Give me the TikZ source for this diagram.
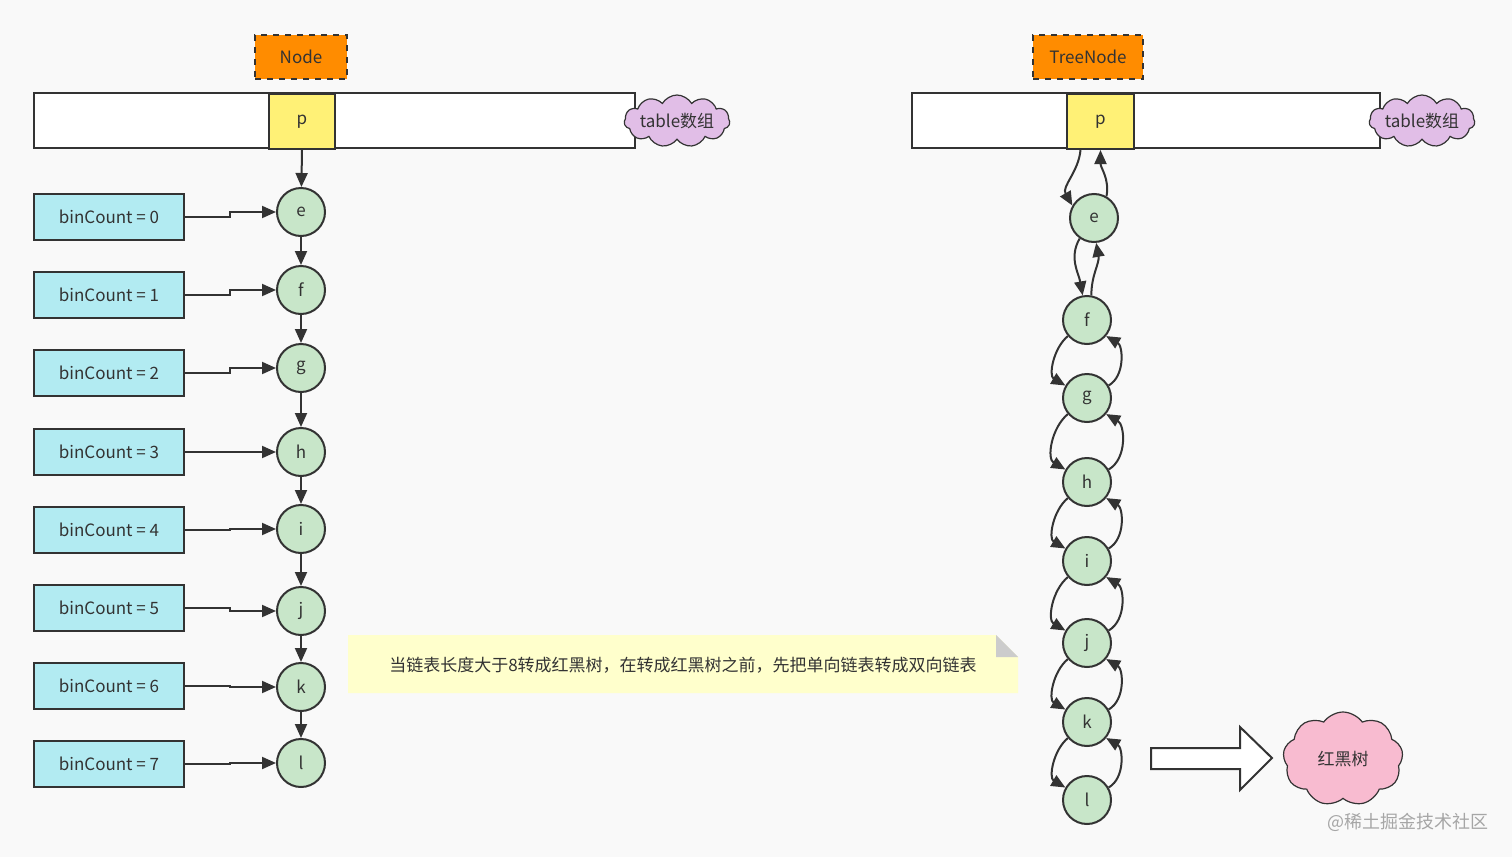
\documentclass[tikz,border=0pt]{standalone}
\usepackage{fontspec}
\setmainfont{Noto Sans CJK SC}
\usetikzlibrary{arrows.meta,shapes.symbols}
\definecolor{bg}{HTML}{F9F9F9}
\definecolor{cyanbox}{HTML}{B2EBF2}
\definecolor{circ}{HTML}{C8E6C9}
\definecolor{pcell}{HTML}{FFF176}
\definecolor{orng}{HTML}{FF8C00}
\definecolor{purp}{HTML}{E1BEE7}
\definecolor{pinkc}{HTML}{F8BBD0}
\definecolor{note}{HTML}{FFFFCC}
\definecolor{ln}{HTML}{333333}
\begin{document}
\begin{tikzpicture}[x=0.5pt,y=-0.5pt,
  every node/.style={font=\fontsize{8.5}{10}\selectfont, text=ln},
  tbl/.style={draw=ln,line width=1pt,fill=white},
  lbl/.style={draw=ln,dashed,line width=1pt,fill=orng,minimum width=46pt,minimum height=22pt},
  bin/.style={draw=ln,line width=1pt,fill=cyanbox,minimum width=75pt,minimum height=23pt},
  cn/.style={circle,draw=ln,line width=1pt,fill=circ,minimum size=24pt,inner sep=0pt},
  cloudn/.style={cloud,cloud puffs=9,cloud puff arc=110,draw=ln,line width=0.6pt,inner sep=0pt},
  tcloud/.style={cloudn,fill=purp,aspect=3.5,cloud puffs=11,cloud puff arc=120,minimum width=52pt,minimum height=26pt},
  arr/.style={draw=ln,line width=1pt,-{Triangle[length=7pt,width=6pt]}}]
\useasboundingbox[fill=bg] (0,0) rectangle (1512,857);
% left table
\draw[tbl] (34,93) rectangle (635,148);
\node[draw=ln,line width=1pt,fill=pcell,minimum width=33pt,minimum height=27.5pt,anchor=north west,inner sep=0pt] (p1) at (268,93) {p};
\node[lbl] (nd) at (301,57) {Node};
\node[tcloud] (c1) at (677,121) {table数组};
\foreach \n/\y/\by/\k in {e/212/217/0,f/290/295/1,g/368/373/2,h/452/452/3,i/529/530/4,j/611/608/5,k/687/686/6,l/763/764/7}{
  \node[cn] (L\n) at (301,\y) {\n};
  \node[bin] (B\k) at (109,\by) {binCount\ =\ \k};
  \draw[arr] (B\k.east) -- ++(45,0) |- (L\n.west);
}
\draw[arr] (p1.south) -- (Le);
\draw[arr] (Le) -- (Lf); \draw[arr] (Lf) -- (Lg); \draw[arr] (Lg) -- (Lh);
\draw[arr] (Lh) -- (Li); \draw[arr] (Li) -- (Lj); \draw[arr] (Lj) -- (Lk); \draw[arr] (Lk) -- (Ll);
% right table
\draw[tbl] (912,93) rectangle (1380,148);
\node[draw=ln,line width=1pt,fill=pcell,minimum width=33.5pt,minimum height=27.5pt,anchor=north west,inner sep=0pt] (p2) at (1066,93) {p};
\node[lbl,minimum width=55pt] (tn) at (1088,57) {TreeNode};
\node[tcloud] (c2) at (1422,121) {table数组};
\foreach \n/\x/\y in {e/1094/218,f/1087/320,g/1087/398,h/1087/482,i/1087/561,j/1087/643,k/1087/722,l/1087/800}{
  \node[cn] (R\n) at (\x,\y) {\n};
}
\draw[arr] ([xshift=-10pt]p2.south) to[out=265,in=120] (Re.150);
\draw[arr] (Re.60) to[out=80,in=270] (p2.south);
\draw[arr] (Re.235) to[out=240,in=100] (Rf.100);
\draw[arr] (Rf.80) to[out=90,in=280] (Re.275);
\foreach \a/\b in {f/g,g/h,h/i,i/j,j/k,k/l}{
  \draw[arr] (R\a.220) to[out=220,in=150] (R\b.150);
  \draw[arr] (R\b.30) to[out=30,in=-30] (R\a.-40);
}
% note
\fill[note] (348,635) -- (996,635) -- (1018,657) -- (1018,693) -- (348,693) -- cycle;
\fill[gray!40] (996,635) -- (1018,657) -- (996,657) -- cycle;
\node (nt) at (683,665) {当链表长度大于8转成红黑树，在转成红黑树之前，先把单向链表转成双向链表};
% big arrow
\coordinate (bt) at (1272,758);
\draw[ln,line width=1pt,fill=white] (1151,748) -- (1240,748) -- (1240,727) -- (bt) -- (1240,790) -- (1240,769) -- (1151,769) -- cycle;
\node[cloudn,fill=pinkc,minimum width=60pt,minimum height=47pt,aspect=1.3] (rb) at (1343,759) {红黑树};
\node[text=gray!70,font=\fontsize{9}{10}\selectfont] (wm) at (1408,822) {@稀土掘金技术社区};
\end{tikzpicture}
\end{document}
